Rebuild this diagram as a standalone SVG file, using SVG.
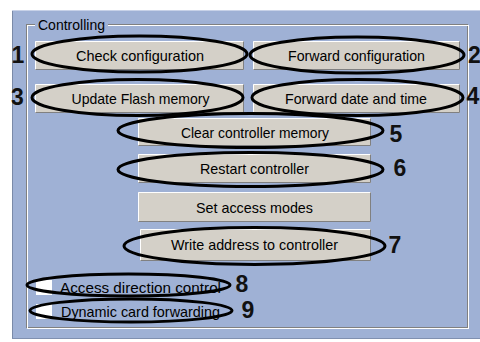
<svg xmlns="http://www.w3.org/2000/svg" width="480" height="342" viewBox="0 0 480 342">
<style>
.t{font-family:"Liberation Sans",Arial,sans-serif;font-size:15px;fill:#000}
.c{text-anchor:middle}
.n{font-family:"Liberation Sans",Arial,sans-serif;font-size:23px;font-weight:bold;fill:#111}
.ell{fill:none;stroke:#000;stroke-width:3}
.face{fill:#d4d0c8}
.hi{stroke:#fff;stroke-width:1;fill:none}
.sh{stroke:#808080;stroke-width:1;fill:none}
</style>
<rect width="480" height="342" fill="#fff"/>
<!-- panel -->
<rect x="12" y="10" width="468" height="329" fill="#9fb1d5"/>
<line x1="12.5" y1="10" x2="12.5" y2="339" stroke="#7a8aa8"/>
<line x1="12" y1="10.5" x2="480" y2="10.5" stroke="#c8d2e8"/>
<line x1="12" y1="338.5" x2="480" y2="338.5" stroke="#8090b0"/>
<!-- group box -->
<g id="groupbox">
<rect x="26.5" y="24.5" width="441" height="303" class="sh"/>
<rect x="27.5" y="25.5" width="441" height="303" class="hi"/>
<rect x="35" y="17" width="73" height="15" fill="#9fb1d5"/>
<text x="38" y="30" class="t" textLength="67" lengthAdjust="spacingAndGlyphs">Controlling</text>
</g>
<!-- buttons -->
<g id="b1">
<rect x="35" y="41" width="209" height="29" class="face"/>
<path d="M35.5 69.5V41.5H243.5" class="hi"/><path d="M35.5 69.5H243.5V41.5" class="sh"/>
<text x="140" y="61" class="t c" textLength="128" lengthAdjust="spacingAndGlyphs">Check configuration</text>
</g>
<g id="b2">
<rect x="253" y="41" width="207" height="29" class="face"/>
<path d="M253.5 69.5V41.5H459.5" class="hi"/><path d="M253.5 69.5H459.5V41.5" class="sh"/>
<text x="356.5" y="61" class="t c" textLength="137" lengthAdjust="spacingAndGlyphs">Forward configuration</text>
</g>
<g id="b3">
<rect x="35" y="84" width="209" height="29" class="face"/>
<path d="M35.5 112.5V84.5H243.5" class="hi"/><path d="M35.5 112.5H243.5V84.5" class="sh"/>
<text x="140.5" y="104" class="t c" textLength="138" lengthAdjust="spacingAndGlyphs">Update Flash memory</text>
</g>
<g id="b4">
<rect x="253" y="84" width="207" height="29" class="face"/>
<path d="M253.5 112.5V84.5H459.5" class="hi"/><path d="M253.5 112.5H459.5V84.5" class="sh"/>
<text x="356" y="104" class="t c" textLength="142" lengthAdjust="spacingAndGlyphs">Forward date and time</text>
</g>
<g id="b5">
<rect x="138" y="118" width="233" height="28" class="face"/>
<path d="M138.5 145.5V118.5H370.5" class="hi"/><path d="M138.5 145.5H370.5V118.5" class="sh"/>
<text x="255" y="137.5" class="t c" textLength="148" lengthAdjust="spacingAndGlyphs">Clear controller memory</text>
</g>
<g id="b6">
<rect x="138" y="154" width="233" height="29" class="face"/>
<path d="M138.5 182.5V154.5H370.5" class="hi"/><path d="M138.5 182.5H370.5V154.5" class="sh"/>
<text x="254.5" y="174" class="t c" textLength="109" lengthAdjust="spacingAndGlyphs">Restart controller</text>
</g>
<g id="b7">
<rect x="138" y="192" width="233" height="30" class="face"/>
<path d="M138.5 221.5V192.5H370.5" class="hi"/><path d="M138.5 221.5H370.5V192.5" class="sh"/>
<text x="254.5" y="212.5" class="t c" textLength="117" lengthAdjust="spacingAndGlyphs">Set access modes</text>
</g>
<g id="b8">
<rect x="140" y="229" width="231" height="32" class="face"/>
<path d="M140.5 260.5V229.5H370.5" class="hi"/><path d="M140.5 260.5H370.5V229.5" class="sh"/>
<text x="254.5" y="250" class="t c" textLength="167" lengthAdjust="spacingAndGlyphs">Write address to controller</text>
</g>
<g id="cb1">
<rect x="36" y="280" width="16" height="15" fill="#fff"/>
<text x="60" y="292.5" class="t" textLength="161" lengthAdjust="spacingAndGlyphs">Access direction control</text>
</g>
<g id="cb2">
<rect x="36" y="304" width="16" height="15" fill="#fff"/>
<text x="61" y="316.5" class="t" textLength="159" lengthAdjust="spacingAndGlyphs">Dynamic card forwarding</text>
</g>
<!-- callout ellipses -->
<g id="callouts">
<ellipse cx="139.5" cy="54" rx="107.5" ry="18" class="ell"/>
<ellipse cx="357" cy="55" rx="107" ry="18" class="ell"/>
<ellipse cx="137.5" cy="97.5" rx="105.5" ry="18" class="ell"/>
<ellipse cx="357.5" cy="97.5" rx="105.5" ry="18" class="ell"/>
<ellipse cx="250.5" cy="130.5" rx="132.5" ry="17" class="ell"/>
<ellipse cx="250.5" cy="169.5" rx="132.5" ry="17" class="ell"/>
<ellipse cx="254.5" cy="246" rx="130.5" ry="18.5" class="ell"/>
<ellipse cx="128.5" cy="285" rx="101.5" ry="11" class="ell"/>
<ellipse cx="131" cy="310.5" rx="101" ry="11.5" class="ell"/>
</g>
<g id="labels">
<text x="11.5" y="63" class="n">1</text>
<text x="468" y="63" class="n">2</text>
<text x="11" y="105" class="n">3</text>
<text x="466.5" y="104" class="n">4</text>
<text x="389.5" y="142" class="n">5</text>
<text x="393.5" y="176" class="n">6</text>
<text x="388.5" y="253" class="n">7</text>
<text x="235.5" y="292" class="n">8</text>
<text x="241.5" y="318" class="n">9</text>
</g>
</svg>
